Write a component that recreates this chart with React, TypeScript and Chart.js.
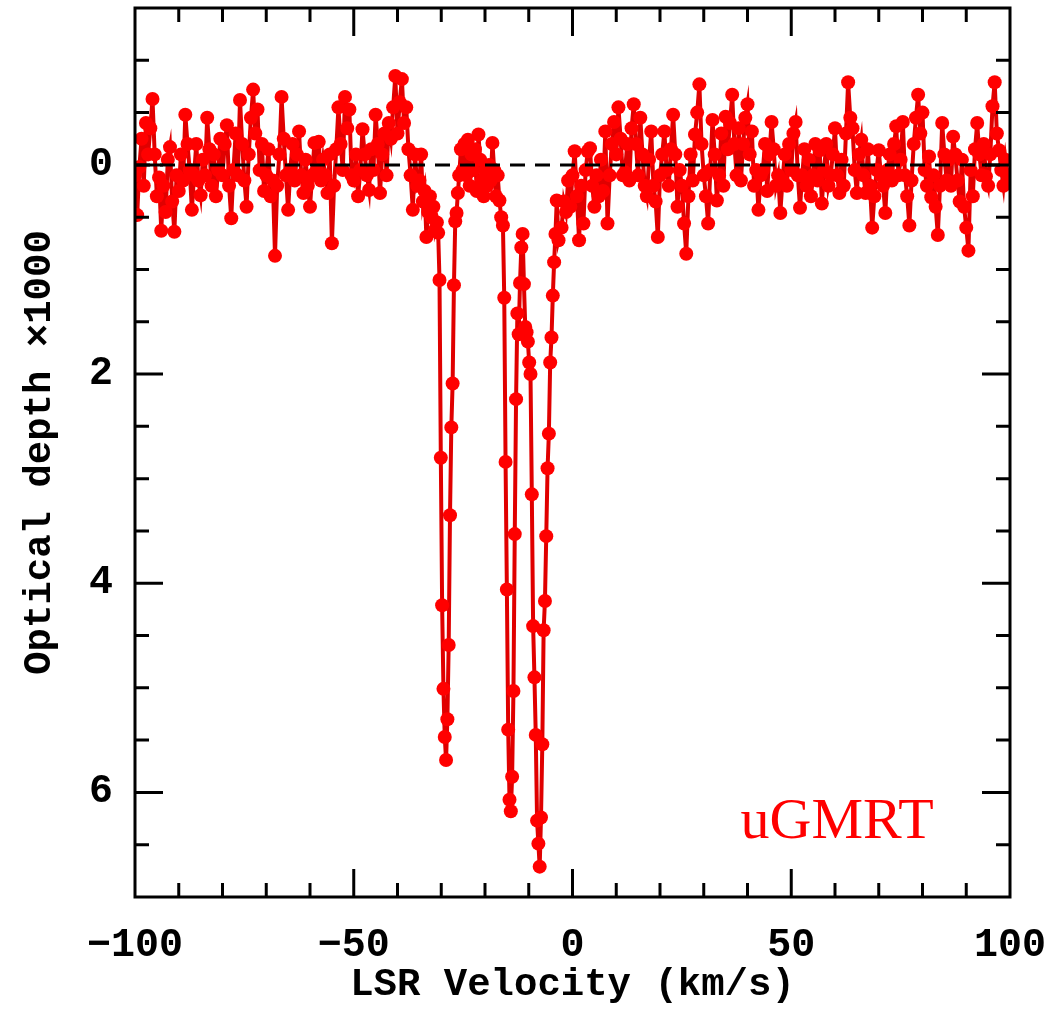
import React, { useEffect, useRef } from "react";
import { Chart, registerables } from "chart.js";

Chart.register(...registerables);

// ---------- axes ----------
const X_MIN = -100;
const X_MAX = 100;
const Y_MIN = -1.5;
const Y_MAX = 7;
const X_TICKS = [-100, -50, 0, 50, 100];
const Y_TICKS = [0, 2, 4, 6];
const X_MINOR_STEP = 10;
const X_MAJOR_EVERY = 5; // every 5 minor steps
const Y_MINOR_STEP = 0.5;
const Y_MAJOR_EVERY = 4;

const X_TITLE = "LSR Velocity (km/s)";
const Y_TITLE = "Optical depth \u00d71000";
const LABEL_TEXT = "uGMRT";
const LABEL_V = 38.4;
const LABEL_TAU = 6.44;

// ---------- data ----------
const CHANNEL_WIDTH = 0.5; // km/s
const LEFT_START = -100;
// optical depth x1000, channels from -100 to -35.5 km/s
const TAU_LEFT = [
  0.10, 0.48, 0.02, -0.25, 0.20, -0.40, -0.10, -0.35, -0.63, -0.10,
  0.30, 0.12, 0.63, 0.20, 0.45, -0.05, -0.17, 0.35, 0.64, 0.10,
  0.25, -0.10, 0.15, -0.48, -0.20, 0.05, 0.43, 0.10, -0.20, 0.15,
  0.29, -0.05, 0.10, -0.45, -0.15, 0.20, -0.10, 0.30, 0.05, -0.25,
  0.10, -0.20, -0.38, 0.20, 0.51, 0.05, -0.30, 0.10, -0.62, -0.20,
  0.15, 0.40, -0.10, -0.45, -0.72, -0.30, -0.53, 0.05, -0.20, 0.25,
  0.10, -0.15, 0.30, 0.15, 0.87, 0.20, -0.10, -0.65, -0.25, 0.10,
  0.43, 0.05, -0.20, 0.15, -0.10, -0.32, 0.10, 0.27, -0.05, 0.20,
  0.40, 0.10, -0.21, 0.05, -0.22, 0.15, -0.05, 0.10, 0.27, -0.10,
  0.75, 0.20, -0.15, -0.55, -0.20, 0.05, -0.65, -0.35, -0.53, 0.10,
  0.15, -0.10, 0.30, 0.05, -0.34, -0.10, 0.10, 0.24, -0.15, 0.05,
  -0.48, -0.20, 0.27, -0.10, -0.30, 0.10, -0.40, -0.25, -0.55, -0.85,
  -0.30, -0.60, -0.82, -0.40, -0.55, -0.15, 0.10, 0.43, -0.10, 0.20,
];

// absorption region, read point by point
const CORE_VEL = [
  -35.0, -34.6, -34.2, -33.8, -33.4, -33.0, -32.6, -32.2, -31.8, -31.4,
  -31.0, -30.7, -30.4, -30.1, -29.8, -29.5, -29.2, -28.9, -28.6, -28.3,
  -28.0, -27.7, -27.4, -27.1, -26.8, -26.5, -26.2, -25.9, -25.5, -25.1,
  -24.7, -24.3, -23.9, -23.5, -23.1, -22.7, -22.3, -21.9, -21.5, -21.1,
  -20.7, -20.3, -19.9, -19.5, -19.1, -18.7, -18.3, -17.9, -17.5, -17.1,
  -16.7, -16.3, -15.9, -15.6, -15.3, -15.0, -14.7, -14.4, -14.1, -13.8,
  -13.5, -13.2, -12.9, -12.6, -12.3, -12.0, -11.7, -11.4, -11.1, -10.8,
  -10.5, -10.2, -9.9, -9.6, -9.3, -9.0, -8.7, -8.4, -8.1, -7.8,
  -7.5, -7.2, -6.9, -6.6, -6.3, -6.0, -5.7, -5.4, -5.1, -4.8,
  -4.5, -4.2, -3.9, -3.6, -3.2,
];
const CORE_TAU = [
  0.15, -0.10, 0.35, 0.25, 0.69, 0.45, 0.30, 0.50, 0.40, 0.62,
  0.55, 0.65, 1.10, 2.80, 4.21, 5.01, 5.47, 5.69, 5.30, 4.59,
  3.35, 2.51, 2.09, 1.15, 0.54, 0.46, 0.27, 0.10, -0.15, 0.05,
  -0.20, 0.10, -0.24, 0.20, -0.10, 0.05, -0.15, 0.25, -0.29, -0.05,
  0.15, 0.30, 0.05, 0.20, 0.00, 0.15, -0.21, 0.05, 0.30, 0.10,
  0.34, 0.50, 0.58, 1.27, 2.84, 4.06, 5.40, 6.07, 6.18, 5.85,
  5.03, 3.53, 2.24, 1.42, 1.62, 1.13, 0.79, 0.66, 1.14, 1.55,
  1.60, 1.69, 1.89, 2.00, 3.15, 4.41, 4.90, 5.45, 6.27, 6.49,
  6.71, 6.24, 5.54, 4.45, 4.17, 3.55, 2.90, 2.57, 1.89, 1.65,
  1.25, 0.93, 0.66, 0.34, 0.72,
];

const RIGHT_START = -2.5;
// optical depth x1000, channels from -2.5 to 100 km/s
const TAU_RIGHT = [
  0.60, 0.35, 0.45, 0.15, 0.40, 0.10, -0.13, 0.30, 0.72, 0.20,
  0.56, 0.05, -0.13, -0.16, 0.20, 0.40, 0.10, 0.30, -0.05, 0.25,
  -0.32, 0.56, 0.10, -0.20, -0.41, -0.10, -0.55, -0.25, 0.10, 0.07,
  -0.20, 0.15, -0.35, -0.58, -0.20, 0.10, -0.45, -0.10, 0.20, 0.30,
  -0.05, -0.32, 0.20, 0.35, 0.69, 0.10, -0.10, -0.32, 0.05, 0.20,
  -0.15, -0.48, -0.10, 0.40, 0.05, 0.20, 0.56, 0.85, 0.30, -0.10,
  0.15, -0.29, -0.50, -0.77, -0.20, 0.10, 0.30, 0.56, 0.05, -0.43,
  -0.10, 0.34, 0.10, -0.30, 0.20, -0.46, -0.15, -0.40, -0.67, -0.20,
  0.10, -0.35, 0.15, -0.20, -0.45, -0.58, -0.10, -0.32, 0.20, 0.05,
  0.43, 0.10, 0.05, -0.20, 0.25, -0.10, -0.41, -0.15, 0.20, 0.10,
  0.46, 0.15, -0.10, 0.20, -0.20, 0.05, -0.30, -0.41, 0.10, 0.41,
  0.10, -0.15, 0.20, -0.05, 0.30, 0.10, -0.20, 0.15, -0.14, 0.37,
  0.05, -0.20, 0.20, 0.10, -0.10, -0.35, 0.10, 0.27, -0.05, 0.20,
  -0.30, -0.79, -0.45, -0.35, 0.05, 0.27, -0.10, -0.24, 0.10, 0.27,
  -0.15, 0.20, 0.60, 0.30, 0.05, -0.14, 0.10, 0.20, 0.46, 0.05,
  -0.10, 0.15, -0.20, -0.37, 0.10, -0.05, -0.41, 0.10, 0.30, 0.58,
  0.15, -0.20, -0.45, -0.67, -0.30, -0.50, 0.05, 0.20, -0.08, 0.31,
  0.10, 0.40, 0.67, 0.20, -0.40, -0.10, 0.15, -0.05, 0.20, -0.27,
  -0.10, 0.15, 0.35, -0.05, 0.40, 0.60, 0.82, 0.05, 0.30, -0.15,
  -0.40, -0.10, 0.10, -0.20, 0.11, 0.20, -0.10, -0.56, -0.79, -0.30,
  -0.14, 0.05, 0.20, -0.05, 0.10, 0.15,
];

const POINTS = [
  ...TAU_LEFT.map((t, i) => ({ x: LEFT_START + i * CHANNEL_WIDTH, y: t })),
  ...CORE_VEL.map((v, i) => ({ x: v, y: CORE_TAU[i] })),
  ...TAU_RIGHT.map((t, i) => ({ x: RIGHT_START + i * CHANNEL_WIDTH, y: t })),
];

const fmt = (v: number) => (v < 0 ? "\u2212" + Math.abs(v) : String(v));

const MONO = "'Liberation Mono', 'DejaVu Sans Mono', monospace";

const framePlugin = {
  id: "frameTicks",
  afterDatasetsDraw(chart: any) {
    const { ctx, chartArea: a, scales } = chart;
    const xs = scales.x;
    const ys = scales.y;
    ctx.save();
    ctx.strokeStyle = "#000";
    ctx.lineWidth = 3;
    // dashed zero line
    const y0 = ys.getPixelForValue(0);
    ctx.setLineDash([15, 10]);
    ctx.beginPath();
    ctx.moveTo(a.left, y0);
    ctx.lineTo(a.right, y0);
    ctx.stroke();
    ctx.setLineDash([]);
    // ticks
    ctx.beginPath();
    const nx = Math.round((X_MAX - X_MIN) / X_MINOR_STEP);
    for (let i = 1; i < nx; i++) {
      const v = X_MIN + i * X_MINOR_STEP;
      const px = xs.getPixelForValue(v);
      const len = i % X_MAJOR_EVERY === 0 ? 28 : 14;
      ctx.moveTo(px, a.bottom);
      ctx.lineTo(px, a.bottom - len);
      ctx.moveTo(px, a.top);
      ctx.lineTo(px, a.top + len);
    }
    const ny = Math.round((Y_MAX - Y_MIN) / Y_MINOR_STEP);
    for (let i = 1; i < ny; i++) {
      const v = Y_MIN + i * Y_MINOR_STEP;
      const py = ys.getPixelForValue(v);
      const k = Math.round(v / Y_MINOR_STEP);
      const len = k % Y_MAJOR_EVERY === 0 ? 28 : 14;
      ctx.moveTo(a.left, py);
      ctx.lineTo(a.left + len, py);
      ctx.moveTo(a.right, py);
      ctx.lineTo(a.right - len, py);
    }
    ctx.stroke();
    // frame
    ctx.strokeRect(a.left, a.top, a.right - a.left, a.bottom - a.top);
    // instrument label
    ctx.font = "58px 'Liberation Serif', serif";
    ctx.fillStyle = "#ff0000";
    ctx.textAlign = "left";
    ctx.textBaseline = "alphabetic";
    ctx.fillText(LABEL_TEXT, xs.getPixelForValue(LABEL_V), ys.getPixelForValue(LABEL_TAU));
    ctx.restore();
  },
};

export default function App() {
  const ref = useRef<HTMLCanvasElement>(null);
  useEffect(() => {
    document.body.style.margin = "0";
    const chart = new Chart(ref.current as HTMLCanvasElement, {
      type: "line",
      data: {
        datasets: [
          {
            data: POINTS,
            borderColor: "#e00000",
            borderWidth: 4,
            pointStyle: "circle",
            pointRadius: 7,
            pointBackgroundColor: "#ff0000",
            pointBorderColor: "#ff0000",
            pointBorderWidth: 0,
            tension: 0,
          },
        ],
      },
      options: {
        animation: false,
        responsive: false,
        maintainAspectRatio: false,
        events: [],
        layout: { padding: { top: 8, right: 40, bottom: 0, left: 0 } },
        plugins: { legend: { display: false }, tooltip: { enabled: false } },
        scales: {
          x: {
            type: "linear",
            min: X_MIN,
            max: X_MAX,
            grid: { display: false, drawTicks: false },
            border: { display: false },
            afterBuildTicks: (s: any) => {
              s.ticks = X_TICKS.map((v) => ({ value: v }));
            },
            afterFit: (s: any) => {
              s.height = 112;
              s.paddingLeft = 0;
              s.paddingRight = 0;
            },
            ticks: {
              autoSkip: false,
              maxRotation: 0,
              padding: 25,
              color: "#000",
              font: { family: MONO, size: 40, weight: "bold" },
              callback: (v: any) => fmt(Number(v)),
            },
            title: {
              display: true,
              text: X_TITLE,
              color: "#000",
              font: { family: MONO, size: 39, weight: "bold" },
              padding: { top: 0, bottom: 0 },
            },
          },
          y: {
            type: "linear",
            reverse: true,
            min: Y_MIN,
            max: Y_MAX,
            grid: { display: false, drawTicks: false },
            border: { display: false },
            afterBuildTicks: (s: any) => {
              s.ticks = Y_TICKS.map((v) => ({ value: v }));
            },
            afterFit: (s: any) => {
              s.width = 135;
              s.paddingTop = 0;
              s.paddingBottom = 0;
            },
            ticks: {
              autoSkip: false,
              padding: 22,
              color: "#000",
              font: { family: MONO, size: 40, weight: "bold" },
              callback: (v: any) => fmt(Number(v)),
            },
            title: {
              display: true,
              text: Y_TITLE,
              color: "#000",
              font: { family: MONO, size: 39, weight: "bold" },
              padding: { top: 17, bottom: 0 },
            },
          },
        },
      },
      plugins: [framePlugin],
    } as any);
    return () => chart.destroy();
  }, []);
  return (
    <div style={{ width: 1050, height: 1009, background: "#fff" }}>
      <canvas ref={ref} width={1050} height={1009} style={{ display: "block" }} />
    </div>
  );
}
